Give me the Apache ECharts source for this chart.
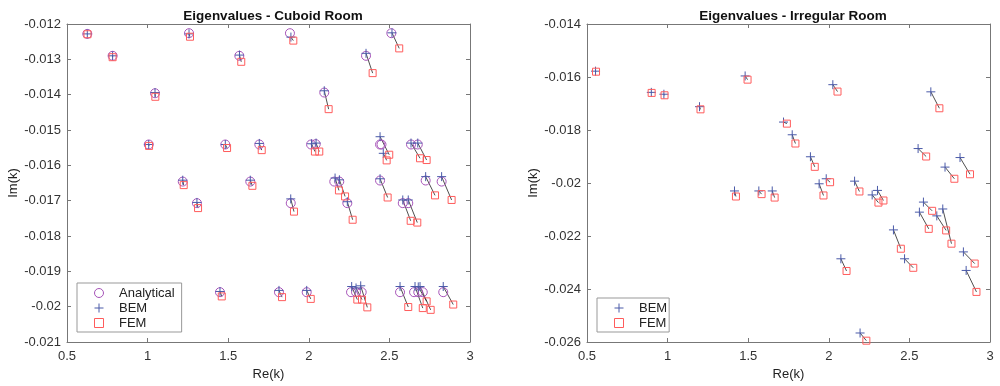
<!DOCTYPE html>
<html><head><meta charset="utf-8">
<script src="https://cdn.jsdelivr.net/npm/echarts@6/dist/echarts.min.js"></script>
<style>html,body{margin:0;padding:0;background:#fff}#c{width:1000px;height:386px}</style>
</head><body><div id="c"></div>
<script>
// ---- Cuboid room (left) ----
const cubAnalytical = [
 [0.626,-0.01228],[0.783,-0.01290],[1.046,-0.01396],[1.007,-0.01541],[1.218,-0.01646],
 [1.257,-0.01226],[1.569,-0.01290],[1.482,-0.01541],[1.306,-0.01707],[1.449,-0.01959],
 [1.883,-0.01226],[2.512,-0.01226],[2.355,-0.01290],[2.096,-0.01394],[1.693,-0.01541],
 [2.014,-0.01541],[2.043,-0.01540],[2.442,-0.01541],[2.451,-0.01541],[2.634,-0.01541],
 [2.676,-0.01541],[1.637,-0.01646],[2.158,-0.01646],[2.189,-0.01646],[2.442,-0.01643],
 [2.725,-0.01643],[2.824,-0.01646],[1.888,-0.01707],[2.239,-0.01707],[2.583,-0.01707],
 [2.617,-0.01707],[1.815,-0.01959],[1.987,-0.01959],[2.262,-0.01959],[2.293,-0.01959],
 [2.328,-0.01959],[2.566,-0.01959],[2.653,-0.01959],[2.679,-0.01959],[2.707,-0.01959],
 [2.834,-0.01959]
];
const cubBEM = [
 [0.626,-0.01228],[0.783,-0.01290],[1.046,-0.01394],[1.007,-0.01541],[1.218,-0.01642],
 [1.257,-0.01228],[1.570,-0.01288],[1.482,-0.01541],[1.306,-0.01705],[1.449,-0.01957],
 [1.889,-0.01237],[2.516,-0.01225],[2.355,-0.01283],[2.096,-0.01389],[1.693,-0.01538],
 [2.017,-0.01539],[2.045,-0.01537],[2.442,-0.01519],[2.462,-0.01566],[2.634,-0.01537],
 [2.676,-0.01537],[1.637,-0.01642],[2.163,-0.01636],[2.190,-0.01641],[2.442,-0.01638],
 [2.725,-0.01632],[2.824,-0.01632],[1.888,-0.01695],[2.239,-0.01703],[2.583,-0.01698],
 [2.617,-0.01698],[1.815,-0.01954],[1.987,-0.01954],[2.266,-0.01943],[2.293,-0.01947],
 [2.322,-0.01941],[2.566,-0.01943],[2.659,-0.01943],[2.679,-0.01944],[2.690,-0.01943],
 [2.834,-0.01943]
];
const cubFEM = [
 [0.627,-0.01229],[0.783,-0.01294],[1.048,-0.01406],[1.009,-0.01545],[1.224,-0.01656],
 [1.263,-0.01236],[1.581,-0.01307],[1.493,-0.01551],[1.313,-0.01721],[1.460,-0.01971],
 [1.904,-0.01247],[2.561,-0.01269],[2.396,-0.01339],[2.123,-0.01441],[1.708,-0.01557],
 [2.038,-0.01561],[2.065,-0.01561],[2.499,-0.01570],[2.483,-0.01586],[2.690,-0.01580],
 [2.731,-0.01585],[1.650,-0.01658],[2.187,-0.01671],[2.225,-0.01688],[2.489,-0.01691],
 [2.783,-0.01685],[2.886,-0.01698],[1.908,-0.01731],[2.272,-0.01754],[2.632,-0.01757],
 [2.673,-0.01762],[1.834,-0.01973],[2.012,-0.01978],[2.301,-0.01980],[2.330,-0.01980],
 [2.363,-0.02002],[2.617,-0.02001],[2.707,-0.02004],[2.731,-0.01985],[2.756,-0.02009],
 [2.896,-0.01994]
];
// ---- Irregular room (right) ----
const irrBEM = [
 [0.553,-0.01578],[0.899,-0.01658],[0.977,-0.01665],[1.198,-0.01712],[1.481,-0.01596],
 [1.415,-0.02030],[1.566,-0.02030],[1.649,-0.02030],[2.025,-0.01629],[2.633,-0.01656],
 [1.719,-0.01770],[1.773,-0.01818],[2.554,-0.01870],[1.886,-0.01901],[2.721,-0.01940],
 [2.814,-0.01904],[1.984,-0.01984],[1.940,-0.02003],[2.160,-0.01993],[2.269,-0.02045],
 [2.302,-0.02028],[2.587,-0.02072],[2.562,-0.02110],[2.670,-0.02124],[2.707,-0.02098],
 [2.401,-0.02177],[2.470,-0.02286],[2.075,-0.02286],[2.835,-0.02260],[2.852,-0.02330],
 [2.194,-0.02566]
];
const irrFEM = [
 [0.556,-0.01580],[0.901,-0.01660],[0.981,-0.01669],[1.204,-0.01722],[1.496,-0.01610],
 [1.424,-0.02051],[1.583,-0.02042],[1.664,-0.02055],[2.054,-0.01655],[2.686,-0.01718],
 [1.740,-0.01776],[1.793,-0.01851],[2.604,-0.01900],[1.913,-0.01939],[2.779,-0.01984],
 [2.876,-0.01967],[2.008,-0.01997],[1.967,-0.02047],[2.190,-0.02032],[2.308,-0.02074],
 [2.339,-0.02066],[2.641,-0.02105],[2.620,-0.02173],[2.728,-0.02179],[2.761,-0.02229],
 [2.447,-0.02248],[2.524,-0.02320],[2.110,-0.02332],[2.905,-0.02304],[2.916,-0.02411],
 [2.233,-0.02595]
];
const titles = ['Eigenvalues - Cuboid Room','Eigenvalues - Irregular Room'];
const xLim = [0.5, 3, 0.5];
const yLimL = [-0.021, -0.012, 0.001];
const yLimR = [-0.026, -0.014, 0.002];

const cA = '#a653b8', cB = '#4a5aa8', cF = '#ff5c5c';
const plus = 'path://M5,0L5,10M0,5L10,5';
const square = 'path://M0,0L10,0L10,10L0,10Z';
const axCol = '#777';
const font = 'Liberation Sans, Arial, sans-serif';

function xAx(g, pos){
  return {type:'value', gridIndex:g, position:pos, min:xLim[0], max:xLim[1], interval:xLim[2],
    name: pos==='bottom' ? 'Re(k)' : '', nameLocation:'middle', nameGap:26,
    nameTextStyle:{color:'#222', fontSize:13, fontFamily:font},
    axisLine:{show:true, onZero:false, lineStyle:{color:axCol}},
    axisTick:{show:true, inside:true, length:4, lineStyle:{color:axCol}},
    axisLabel:{show: pos==='bottom', color:'#333', fontSize:13, fontFamily:font, margin:8},
    splitLine:{show:false}};
}
function yAx(g, pos, lim){
  return {type:'value', gridIndex:g, position:pos, min:lim[0], max:lim[1], interval:lim[2],
    name: pos==='left' ? 'Im(k)' : '', nameLocation:'middle', nameGap:47,
    nameTextStyle:{color:'#222', fontSize:13, fontFamily:font},
    axisLine:{show:true, onZero:false, lineStyle:{color:axCol}},
    axisTick:{show:true, inside:true, length:4, lineStyle:{color:axCol}},
    axisLabel:{show: pos==='left', color:'#333', fontSize:13, fontFamily:font, margin:6},
    splitLine:{show:false}};
}
function conn(bem, fem, xi, yi){
  return {type:'custom', xAxisIndex:xi, yAxisIndex:yi, z:1, silent:true,
    data: bem.map((b,i)=>[b[0], b[1], fem[i][0], fem[i][1]]),
    encode:{x:[0,2], y:[1,3]},
    renderItem: function(params, api){
      const p1 = api.coord([api.value(0), api.value(1)]);
      const p2 = api.coord([api.value(2), api.value(3)]);
      return {type:'line', shape:{x1:p1[0], y1:p1[1], x2:p2[0], y2:p2[1]},
        style:{stroke:'#222', lineWidth:0.8, fill:null}};
    }};
}
function sc(name, data, sym, size, col, xi, yi){
  return {type:'scatter', name, data, symbol:sym, symbolSize:size, xAxisIndex:xi, yAxisIndex:yi, z:3,
    silent:true, itemStyle:{color:'rgba(255,255,255,0)', borderColor:col, borderWidth:1, opacity:1},
    emphasis:{disabled:true}};
}
function legItem(name, icon, col){
  return {name, icon, itemStyle:{color:'rgba(255,255,255,0)', borderColor:col, borderWidth:1}};
}
const legendCommon = {orient:'vertical', backgroundColor:'#fff', borderColor:'#999', borderWidth:1,
  itemWidth:30, itemHeight:9, itemGap:1, selectedMode:false,
  textStyle:{fontSize:13, fontFamily:font, color:'#222', lineHeight:14}};

const chart = echarts.init(document.getElementById('c'), null, {renderer:'canvas'});
chart.setOption({
  animation:false,
  title: [
    {text:titles[0], left:268, top:4, textAlign:'center', textStyle:{fontSize:13.5, fontWeight:'bold', color:'#111', fontFamily:font}},
    {text:titles[1], left:788, top:4, textAlign:'center', textStyle:{fontSize:13.5, fontWeight:'bold', color:'#111', fontFamily:font}}
  ],
  grid: [
    {left:67, top:24, width:403, height:318},
    {left:587, top:24, width:403, height:318}
  ],
  xAxis: [xAx(0,'bottom'), xAx(0,'top'), xAx(1,'bottom'), xAx(1,'top')],
  yAxis: [yAx(0,'left',yLimL), yAx(0,'right',yLimL), yAx(1,'left',yLimR), yAx(1,'right',yLimR)],
  legend: [
    Object.assign({left:77, top:283, padding:[3,7,2,17],
      data:[legItem('Analytical','circle',cA), legItem('BEM',plus,cB), legItem('FEM',square,cF)]}, legendCommon),
    Object.assign({left:597, top:298, padding:[3,2,2,17],
      data:[legItem('BEM',plus,cB), legItem('FEM',square,cF)]}, legendCommon)
  ],
  series: [
    conn(cubBEM, cubFEM, 0, 0),
    sc('Analytical', cubAnalytical, 'circle', 9, cA, 0, 0),
    sc('BEM', cubBEM, plus, 9, cB, 0, 0),
    sc('FEM', cubFEM, 'rect', 7, cF, 0, 0),
    conn(irrBEM, irrFEM, 2, 2),
    sc('BEM', irrBEM, plus, 9, cB, 2, 2),
    sc('FEM', irrFEM, 'rect', 7, cF, 2, 2)
  ]
});
</script></body></html>
